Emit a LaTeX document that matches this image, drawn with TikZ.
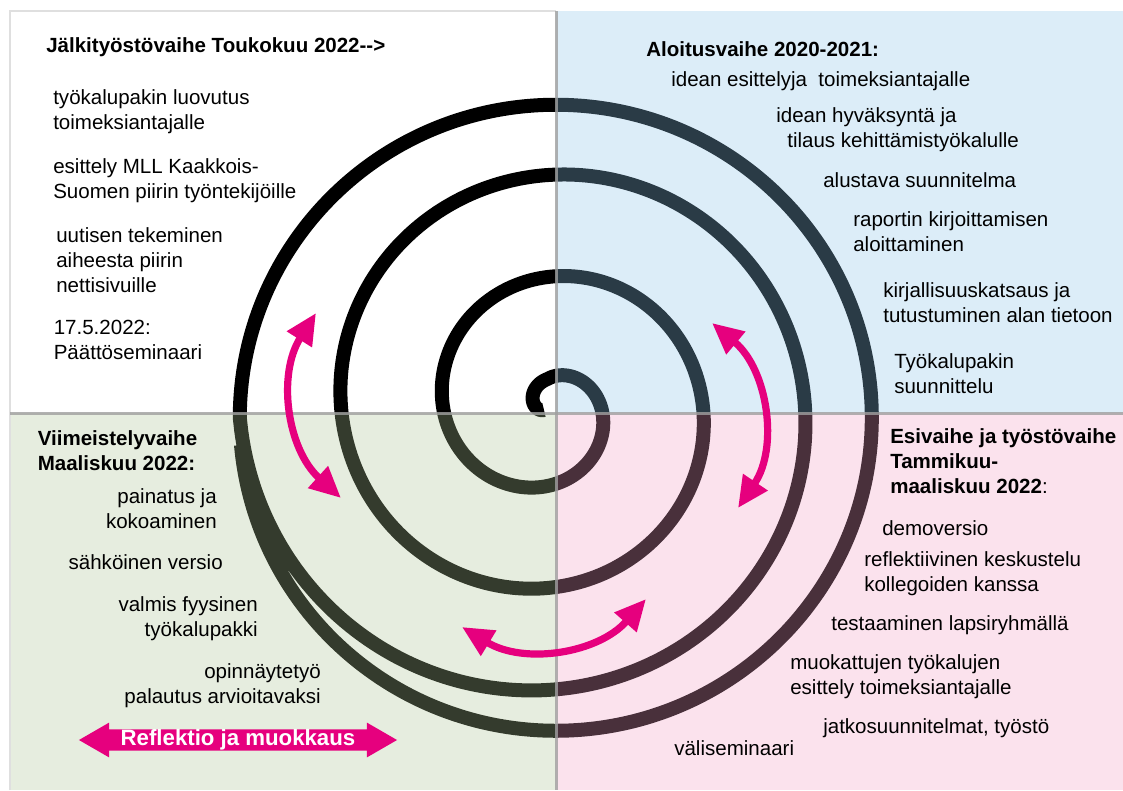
\documentclass[tikz,border=0pt]{standalone}
\usepackage{fontspec}
\setmainfont{Liberation Sans}
\usetikzlibrary{arrows.meta,shapes.arrows}
\definecolor{refl}{RGB}{230,0,126}
\definecolor{ovblue}{RGB}{142,198,235}
\definecolor{ovpink}{RGB}{242,162,198}
\definecolor{ovgreen}{RGB}{175,198,150}

\begin{document}
\begin{tikzpicture}[x=0.025cm, y=0.025cm,
  txt/.style={anchor=west, inner sep=0pt, align=left, font=\fontsize{14.6}{17.8}\selectfont},
  txtr/.style={txt, anchor=east, align=right},
  head/.style={txt, font=\fontsize{14.6}{17.8}\selectfont\bfseries},
  reflarrow/.style={draw=refl, line width=0.18cm,
    {Triangle[length=0.78cm,width=0.7cm]}-{Triangle[length=0.78cm,width=0.7cm]}}]

\useasboundingbox (0,0) rectangle (1123,-790);
\fill[white] (0,0) rectangle (1123,-790);

\draw[line width=0.35cm, black] plot[domain=-130:988, samples=400, smooth, variable=\t]
  ({547.5+(28+(\t<0?0.18:0.2833)*\t)*sin(\t)}, {-407+(28+(\t<0?0.18:0.2833)*\t)*cos(\t)})
  arc[start angle=180, end angle=-175, x radius=316, y radius=313];

\fill[ovblue, fill opacity=0.3] (556,-11) rectangle (1123,-413);
\fill[ovgreen, fill opacity=0.3] (10,-413) rectangle (556,-790);
\fill[ovpink, fill opacity=0.3] (556,-413) rectangle (1123,-790);

\draw[gray!25, line width=1pt] (10,-790) -- (10,-11) -- (556,-11);
\draw[gray!75, opacity=0.8, line width=0.075cm] (556,-11) -- (556,-790);
\draw[gray!75, opacity=0.8, line width=0.075cm] (10,-413) -- (1123,-413);

\coordinate (lt) at (316,-313);
\coordinate (lb) at (341,-498);
\coordinate (rt) at (712,-323);
\coordinate (rb) at (738,-508);
\coordinate (bl) at (462,-627);
\coordinate (br) at (646,-599);

\draw[reflarrow] (lt) to[bend right=40] (lb);
\draw[reflarrow] (rt) to[bend left=42] (rb);
\draw[reflarrow] (bl) to[bend right=40] (br);

\node[head] (tlhead) at (46,-47) {Jälkityöstövaihe Toukokuu 2022-{}-{}>};
\node[txt] (tl1) at (53,-111.5) {työkalupakin luovutus\\toimeksiantajalle};
\node[txt] (tl2) at (53,-180.5) {esittely MLL Kaakkois-\\Suomen piirin työntekijöille};
\node[txt] (tl3) at (56,-260) {uutisen tekeminen\\aiheesta piirin\\nettisivuille};
\node[txt] (tl4) at (53.5,-340) {17.5.2022:\\Päättöseminaari};

\node[head] (trhead) at (646,-49) {Aloitusvaihe 2020-2021:};
\node[txt] (tr1) at (671,-81) {idean esittelyja~ toimeksiantajalle};
\node[txt] (tr2) at (776,-130) {idean hyväksyntä ja\\\hspace*{0.275cm}tilaus kehittämistyökalulle};
\node[txt] (tr3) at (823,-180) {alustava suunnitelma};
\node[txt] (tr4) at (853,-232) {raportin kirjoittamisen\\aloittaminen};
\node[txt] (tr5) at (883,-302.5) {kirjallisuuskatsaus ja\\tutustuminen alan tietoon};
\node[txt] (tr6) at (894,-374) {Työkalupakin\\suunnittelu};

\node[head] (blhead) at (37.5,-451) {Viimeistelyvaihe\\Maaliskuu 2022:};
\node[txtr] (bl1) at (217,-509) {painatus ja\\kokoaminen};
\node[txtr] (bl2) at (223,-562) {sähköinen versio};
\node[txtr] (bl3) at (258,-618.5) {valmis fyysinen\\työkalupakki};
\node[txtr] (bl4) at (321,-685.5) {opinnäytetyö\\palautus arvioitavaksi};
\node[double arrow, fill=refl, text=white, font=\fontsize{15.8}{18}\selectfont\bfseries,
  minimum height=7.95cm, double arrow tip angle=60, double arrow head extend=0.17cm,
  inner xsep=0pt, inner ysep=0pt] (refl) at (238,-740) {Reflektio ja muokkaus};

\node[head] (brhead) at (890,-461.5) {Esivaihe ja työstövaihe\\Tammikuu-\\maaliskuu 2022{\mdseries:}};
\node[txt] (br1) at (882,-528) {demoversio};
\node[txt] (br2) at (864,-573.5) {reflektiivinen keskustelu\\kollegoiden kanssa};
\node[txt] (br3) at (831,-625) {testaaminen lapsiryhmällä};
\node[txt] (br4) at (790,-676.5) {muokattujen työkalujen\\esittely toimeksiantajalle};
\node[txt] (br5) at (823,-728) {jatkosuunnitelmat, työstö};
\node[txt] (br6) at (674,-748) {väliseminaari};

\end{tikzpicture}
\end{document}
